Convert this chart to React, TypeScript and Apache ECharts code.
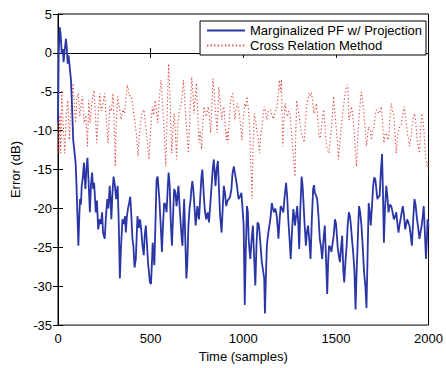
import React, { useEffect, useRef } from "react";
import * as echarts from "echarts";

const xTicks = [0, 500, 1000, 1500, 2000];
const yTicks = [-35, -30, -25, -20, -15, -10, -5, 0, 5];

const pfName = "Marginalized PF w/ Projection";
const crName = "Cross Relation Method";

const pfSamples = [0,4,9,14,20,26,30,36,43,48,52,57,62,70,76,82,88,95,100,105,110,115,119,124,128,134,140,144,148,153,159,165,172,178,184,190,195,204,210,217,225,232,238,243,252,259,266,272,279,284,288,294,300,307,314,322,328,334,340,348,356,362,366,372,378,384,390,396,402,407,413,420,424,429,436,443,450,456,463,468,474,480,486,491,496,502,507,511,516,520,527,532,538,543,547,554,561,567,573,580,586,592,597,603,609,615,621,627,634,640,645,650,657,663,668,672,677,681,687,693,698,704,710,716,720,725,730,734,740,743,748,752,757,761,768,774,779,784,788,794,800,808,815,822,829,835,841,846,850,856,863,868,874,879,883,889,895,901,908,915,922,929,936,942,949,955,961,968,975,982,990,996,1002,1008,1014,1020,1025,1029,1034,1038,1045,1052,1058,1065,1071,1077,1083,1088,1094,1100,1107,1113,1117,1122,1127,1131,1136,1141,1148,1154,1160,1166,1173,1181,1186,1190,1196,1202,1209,1216,1223,1231,1237,1243,1250,1256,1263,1270,1275,1279,1285,1291,1297,1302,1308,1315,1320,1324,1331,1338,1344,1350,1356,1363,1370,1377,1382,1386,1392,1399,1406,1413,1420,1426,1433,1440,1446,1453,1458,1463,1470,1476,1482,1488,1495,1501,1509,1515,1522,1528,1534,1540,1545,1551,1558,1564,1570,1576,1581,1587,1593,1600,1606,1612,1617,1621,1625,1631,1638,1645,1652,1659,1665,1671,1677,1683,1688,1694,1701,1707,1713,1718,1724,1730,1736,1742,1749,1754,1759,1765,1772,1778,1784,1791,1799,1806,1813,1820,1826,1832,1838,1844,1849,1855,1861,1868,1874,1880,1885,1891,1897,1904,1910,1917,1924,1930,1938,1944,1951,1957,1963,1969,1974,1980,1986,1991,1995,2000];
const pfValues = [-9,0,3.3,2.5,-0.1,0.5,-1.2,0.3,1.8,0.5,-1.4,-0.3,-1.5,-3.5,-7,-11.2,-12.5,-14.1,-17.1,-21,-24.8,-21,-18.8,-19.5,-17.1,-16,-14.1,-16,-17.5,-15,-13.5,-16.5,-20.5,-17,-15.4,-17.5,-16.7,-20.5,-19,-22.7,-21.4,-22,-20.5,-23.1,-23.9,-21,-18.8,-20,-17.1,-19,-21.4,-18,-15.9,-17,-18.8,-17.1,-22,-29,-25,-21.4,-22,-21,-23.1,-21,-20,-19.3,-18.5,-21,-24,-24.8,-27.6,-26.5,-24,-21,-22.5,-21.4,-23,-24.8,-26,-23.5,-22.2,-24.5,-27,-28.2,-29.5,-29.7,-27,-24.4,-26,-27.3,-21,-16.3,-15.9,-17.5,-18.8,-22,-25.6,-22,-19.3,-19.5,-20.5,-17.5,-15.4,-17,-22,-24.8,-21,-17.5,-18,-19.7,-18.5,-17.1,-20,-22.2,-24,-24.8,-21,-18.8,-24,-29,-27,-22.2,-20,-18.8,-17.5,-16.5,-17.5,-18.8,-21,-22.2,-21,-19.7,-20.5,-21.4,-18.5,-16,-15,-17,-18.8,-20.5,-21.4,-20.5,-21.8,-19.5,-17.1,-15,-13.7,-15.5,-17.1,-15,-13.9,-17,-20.5,-22,-23.1,-20,-17.1,-18,-19.7,-19,-18.8,-18.5,-17.5,-15.5,-14.6,-15.5,-16.3,-17.5,-18.8,-18.5,-18,-20,-22.2,-32.4,-25,-19.7,-20.5,-23.9,-25.5,-26.5,-24,-22.2,-26,-29.9,-25,-21.8,-22,-23.1,-25,-26.9,-28,-29,-33.5,-29,-25,-23.9,-23,-22.2,-21,-19.3,-20,-20.5,-20,-21,-22.5,-23.9,-21.5,-19.7,-20,-20.5,-18.5,-16.7,-18.5,-21.4,-24,-26.5,-23,-20.1,-21,-22.2,-21,-19.7,-22,-25.2,-20,-15.9,-17,-18.8,-22,-24.8,-23,-22.2,-24,-26.5,-21.5,-17.5,-17,-18,-18.3,-18.8,-21,-23.9,-25,-26.5,-24,-22.2,-26,-31,-27,-24.8,-25,-25.6,-24.5,-23.5,-21.4,-22,-24.8,-26,-26.9,-25,-23.5,-28,-29.5,-27,-24.8,-22,-20.5,-21,-22.2,-24,-25.6,-28,-33,-28,-24.8,-22,-19.7,-20.5,-22.2,-25,-28.2,-30,-32.8,-26,-19.3,-20.5,-22.2,-20,-17.1,-16,-16.3,-17.5,-18.8,-18.5,-18.4,-15.5,-13,-18,-24.4,-20,-17.1,-18.5,-20.5,-19.5,-19.7,-20.5,-21.4,-21,-20.5,-22,-23.1,-22,-21.4,-20.5,-19.7,-21,-22.7,-22,-21.4,-21.8,-22.2,-23.5,-24.8,-21.5,-18.8,-19.5,-21.4,-22.5,-23.9,-23,-22.2,-21,-19.7,-23,-26.5,-24,-21.4,-22.5];

const crSamples = [0,5,10,15,20,28,36,45,54,61,70,82,89,95,102,109,118,125,132,141,150,159,166,173,180,188,195,202,209,217,225,234,243,252,261,270,279,288,297,303,309,315,322,331,341,350,359,366,375,384,393,402,411,420,426,432,441,450,457,464,472,479,485,491,500,509,516,525,532,538,545,550,556,562,568,575,582,590,597,604,609,614,620,627,634,640,647,654,661,668,677,684,690,697,704,713,722,728,734,740,747,754,761,768,775,782,788,794,800,806,811,818,824,830,836,843,850,859,868,876,883,889,895,902,908,913,918,925,931,937,943,949,954,960,967,973,979,986,993,1000,1008,1014,1020,1027,1034,1040,1047,1053,1059,1066,1073,1080,1088,1094,1100,1107,1113,1120,1127,1136,1145,1154,1163,1172,1181,1188,1195,1200,1206,1209,1213,1219,1225,1232,1238,1245,1252,1259,1266,1273,1279,1284,1288,1295,1302,1309,1315,1322,1329,1336,1342,1349,1356,1362,1367,1374,1381,1388,1395,1402,1409,1416,1422,1428,1434,1441,1449,1456,1463,1470,1476,1482,1488,1495,1503,1509,1513,1520,1527,1535,1545,1552,1558,1565,1570,1577,1584,1591,1599,1605,1611,1618,1624,1631,1638,1645,1652,1658,1665,1671,1677,1685,1692,1699,1706,1712,1718,1725,1731,1738,1745,1752,1759,1765,1772,1778,1784,1791,1799,1806,1813,1819,1826,1832,1838,1845,1852,1860,1870,1877,1885,1891,1897,1904,1910,1917,1924,1931,1938,1944,1951,1957,1963,1969,1975,1980,1986,1991,1995,2000];
const crValues = [-8,-13,-7.8,-12.9,-4.8,-9,-12.9,-8,-6.1,-11.2,-7,-3.9,-7,-9,-6,-5.2,-8.2,-6.5,-5.6,-9,-8,-12,-6.1,-9,-7,-5.5,-4.8,-8,-11.6,-8,-5.2,-7.5,-6.5,-5.2,-8.5,-11.6,-6.9,-7.5,-5.2,-9,-14.6,-9,-5.6,-7,-8.6,-7.3,-7.8,-6,-4.1,-5.5,-5.5,-6.5,-8,-9.9,-11,-13.3,-10,-8.2,-7.5,-7.3,-9,-10.7,-12,-13.7,-10,-6.9,-8,-6.1,-7.5,-9,-6.5,-5,-3.5,-5.5,-7.8,-11,-14.6,-7,-1.4,-5.2,-9,-12.9,-10,-7.8,-10.5,-13.7,-9,-7.5,-7,-6.1,-3.5,-6,-8.6,-10.5,-12.9,-7.5,-3.1,-5,-7.8,-6,-3.9,-7.5,-11.6,-10,-12.4,-9,-6.9,-7.5,-8.2,-7.5,-6.9,-8.5,-10.3,-7,-3.3,-5,-7.3,-10.3,-4.4,-6.5,-8.6,-7.5,-6.9,-9,-11.2,-10,-11.6,-8.5,-6.1,-5.5,-5.2,-7,-8.6,-7.5,-6.5,-7,-7.8,-9.5,-11.2,-8.5,-6.5,-7,-5.6,-7,-9.5,-14,-18.8,-12,-7.8,-8.5,-9.9,-11,-12.9,-10.5,-9.9,-8,-6.9,-7.5,-8.6,-7.5,-7.3,-8,-8.5,-7.5,-7.3,-5.5,-3.5,-5,-3.4,-8,-12,-9,-6.5,-7.5,-8.2,-7.5,-7.8,-10,-12,-14,-15.9,-10,-6.1,-7,-8.2,-9.5,-10.3,-11,-11.5,-9,-6.9,-6,-5.2,-5.5,-5.1,-6,-7.8,-7,-6.5,-8.5,-10.7,-11,-9.5,-8.5,-7.3,-9.5,-12,-12.5,-12.9,-11,-9.9,-7.5,-5.6,-8,-10,-11.5,-13.7,-12,-10,-8,-6.1,-5,-4.1,-4.3,-8.6,-8,-6.9,-8,-10.3,-12.5,-14.6,-11,-8.6,-6.5,-5,-6.5,-7.8,-10,-12,-10.5,-9.5,-10,-11.2,-10,-9.5,-8,-7.3,-7.5,-7.8,-7.5,-6.9,-9,-11.6,-10.5,-10.3,-11,-11.2,-8.5,-6.5,-7.5,-8,-10.5,-12.9,-11,-9.8,-9.5,-9.3,-8,-6.9,-8.5,-10.3,-11,-12,-11,-9.5,-8.5,-7.8,-9,-11,-12,-12.9,-10,-7.8,-8.5,-10,-12,-13.7,-14.5,-14.1,-15];

const FONT = "Arial, 'Liberation Sans', Helvetica, sans-serif";
const FS = 13;

export default function App() {
  const ref = useRef<HTMLDivElement>(null);
  useEffect(() => {
    if (!ref.current) return;
    const chart = echarts.init(ref.current, null, { renderer: "svg" });
    const pfData = pfSamples.map((s, i) => [s, pfValues[i]]);
    const crData = crSamples.map((s, i) => [s, crValues[i]]);
    const common = {
      min: xTicks[0],
      max: xTicks[xTicks.length - 1],
      interval: xTicks[1] - xTicks[0],
    };
    const ycommon = {
      min: yTicks[0],
      max: yTicks[yTicks.length - 1],
      interval: yTicks[1] - yTicks[0],
    };
    const tick = { show: true, inside: true, length: 5, lineStyle: { color: "#000" } };
    const line = { show: true, lineStyle: { color: "#000", width: 1 } };
    chart.setOption({
      animation: false,
      backgroundColor: "#ffffff",
      grid: {
        left: 58,
        right: 15,
        top: 14,
        bottom: 41,
        show: true,
        borderColor: "#000",
        borderWidth: 1,
        backgroundColor: "#fff",
      },
      legend: {
        data: [pfName, crName],
        orient: "vertical",
        right: 20,
        top: 21,
        backgroundColor: "#fff",
        borderColor: "#000",
        borderWidth: 1,
        borderRadius: 0,
        padding: [3, 4, 3, 6],
        itemWidth: 38,
        itemHeight: 14,
        itemGap: 2,
        itemStyle: { opacity: 0 },
        textStyle: { fontFamily: FONT, fontSize: FS, color: "#000" },
      },
      xAxis: [
        {
          type: "value",
          ...common,
          position: "bottom",
          name: "Time (samples)",
          nameLocation: "middle",
          nameGap: 20,
          nameTextStyle: { fontFamily: FONT, fontSize: FS, color: "#000" },
          axisLine: line,
          axisTick: tick,
          axisLabel: {
            show: true,
            margin: 7,
            fontFamily: FONT,
            fontSize: FS,
            color: "#000",
            formatter: (v: number) => String(v),
          },
          splitLine: { show: false },
        },
        {
          type: "value",
          ...common,
          position: "top",
          axisLine: line,
          axisTick: tick,
          axisLabel: { show: false },
          splitLine: { show: false },
        },
      ],
      yAxis: [
        {
          type: "value",
          ...ycommon,
          position: "left",
          name: "Error (dB)",
          nameLocation: "middle",
          nameGap: 33,
          nameTextStyle: { fontFamily: FONT, fontSize: FS, color: "#000" },
          axisLine: line,
          axisTick: tick,
          axisLabel: {
            show: true,
            margin: 6,
            fontFamily: FONT,
            fontSize: FS,
            color: "#000",
            formatter: (v: number) => String(v),
          },
          splitLine: { show: false },
        },
        {
          type: "value",
          ...ycommon,
          position: "right",
          axisLine: line,
          axisTick: tick,
          axisLabel: { show: false },
          splitLine: { show: false },
        },
      ],
      series: [
        {
          name: pfName,
          type: "line",
          data: pfData,
          showSymbol: false,
          symbol: "none",
          lineStyle: { color: "#2a36a6", width: 1.8 },
          itemStyle: { color: "#2a36a6" },
          z: 3,
        },
        {
          name: crName,
          type: "line",
          data: crData,
          showSymbol: false,
          symbol: "none",
          lineStyle: { color: "#e0403a", width: 1.1, type: [1.2, 2.4] },
          itemStyle: { color: "#e0403a" },
          z: 2,
        },
      ],
    });
    return () => chart.dispose();
  }, []);
  return (
    <div
      ref={ref}
      style={{ position: "fixed", left: 0, top: 0, width: 446, height: 368, background: "#fff" }}
    />
  );
}
